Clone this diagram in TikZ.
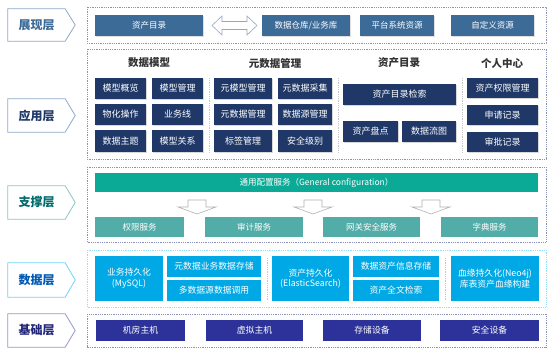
\documentclass[tikz,border=0pt]{standalone}
\usepackage{fontspec}
\newfontfamily\cjk{Noto Sans CJK SC}
\usetikzlibrary{shadows}
\definecolor{steel}{HTML}{3D6B98}
\definecolor{navy}{HTML}{1F3868}
\definecolor{tealbar}{HTML}{0BAA96}
\definecolor{tealbox}{HTML}{52ACA8}
\definecolor{skyb}{HTML}{00A9E6}
\definecolor{purp}{HTML}{2D329A}
\definecolor{frm}{HTML}{8A92B8}
\definecolor{lblb}{HTML}{8FA9C8}
\tikzset{
  base/.style={font=\cjk, inner sep=0pt, align=center},
  topbox/.style={base, fill=steel, text=white, font=\cjk\fontsize{8.5}{10}\selectfont, drop shadow={shadow xshift=0.8pt, shadow yshift=-0.8pt, opacity=0.25}},
  appbox/.style={base, fill=navy, text=white, font=\cjk\fontsize{9}{10.5}\selectfont, drop shadow={shadow xshift=1pt, shadow yshift=-1pt, opacity=0.3}},
  supbar/.style={base, fill=tealbar, text=white, font=\cjk\fontsize{8.5}{10}\selectfont},
  supbox/.style={base, fill=tealbox, text=white, font=\cjk\fontsize{8.5}{10}\selectfont},
  databox/.style={base, fill=skyb, text=white, font=\cjk\fontsize{8.8}{10.5}\selectfont},
  basebox/.style={base, fill=purp, text=white, font=\cjk\fontsize{8.8}{10.5}\selectfont},
  frame/.style={draw=frm, densely dotted, line width=0.8pt},
  sep/.style={draw=gray!45, densely dotted, line width=0.8pt},
  heading/.style={base, font=\cjk\bfseries\fontsize{10.5}{12}\selectfont, text=black!80},
  lbl/.style={base, font=\cjk\bfseries\fontsize{12}{14}\selectfont},
  hollow/.style={fill=white, draw=gray!60, line width=0.6pt},
}
\newcommand\bx[7]{\node[#6, minimum width={(#4-#2)*1pt}, minimum height={(#5-#3)*1pt}] (#1) at ({(#2+#4)/2},{(#3+#5)/2}) {#7};}
\begin{document}
\begin{tikzpicture}[x=1pt,y=-1pt]
\useasboundingbox[fill=white] (0,0) rectangle (554,353);
% left labels
\node[lbl, text=steel, minimum width=57pt, minimum height=32pt] (L1) at (36.5,25) {展现层};
\node[lbl, text=navy, minimum width=57pt, minimum height=33pt] (L2) at (36.5,115.5) {应用层};
\node[lbl, text=teal!85!black, minimum width=57pt, minimum height=33pt] (L3) at (36.5,202.5) {支撑层};
\node[lbl, text=blue!50!cyan!70!black, minimum width=57pt, minimum height=34pt] (L4) at (36.5,280) {数据层};
\node[lbl, text=purp!80!black, minimum width=57pt, minimum height=33pt] (L5) at (36.5,330.5) {基础层};
\foreach \n/\c in {L1/lblb, L2/lblb, L3/teal!45, L4/cyan!55, L5/purp!50}{
  \draw[draw=\c, line width=0.8pt] (\n.north west) -- (\n.north east) -- ([xshift=10pt]\n.east) -- (\n.south east) -- (\n.south west) -- cycle;
}
% frames
\draw[frame] (87,7) rectangle (546,43);
\draw[frame] (87,49) rectangle (546,159);
\draw[frame] (87,167) rectangle (546,242);
\draw[frame, draw=cyan!40] (87,250) rectangle (546,307);
\draw[frame] (87,314) rectangle (546,347);
% top row
\bx{t1}{95}{15}{203}{36}{topbox}{资产目录}
\bx{t2}{262}{15}{350}{36}{topbox}{数据仓库/业务库}
\bx{t3}{360}{15}{434}{36}{topbox}{平台系统资源}
\bx{t4}{451}{15}{534}{36}{topbox}{自定义资源}
\draw[hollow, draw=lblb] (212,25.5) -- (222,16) -- (222,21.5) -- (247,21.5) -- (247,16) -- (257,25.5) -- (247,35) -- (247,29.5) -- (222,29.5) -- (222,35) -- cycle;
% application layer
\node[heading] (h1) at (149,63) {数据模型};
\node[heading] (h2) at (275,63) {元数据管理};
\node[heading] (h3) at (399,63) {资产目录};
\node[heading] (h4) at (502,63) {个人中心};
\bx{a11}{95}{78}{146}{99}{appbox}{模型概览}
\bx{a12}{152}{78}{203}{99}{appbox}{模型管理}
\bx{a21}{95}{104}{146}{125}{appbox}{物化操作}
\bx{a22}{152}{104}{203}{125}{appbox}{业务线}
\bx{a31}{95}{130}{146}{152}{appbox}{数据主题}
\bx{a32}{152}{130}{203}{152}{appbox}{模型关系}
\bx{m11}{214}{78}{272}{99}{appbox}{元模型管理}
\bx{m12}{278}{78}{332}{99}{appbox}{元数据采集}
\bx{m21}{214}{104}{272}{125}{appbox}{元数据管理}
\bx{m22}{278}{104}{332}{125}{appbox}{数据源管理}
\bx{m31}{214}{130}{272}{152}{appbox}{标签管理}
\bx{m32}{278}{130}{332}{152}{appbox}{安全级别}
\bx{c1}{343}{84}{456}{105}{appbox}{资产目录检索}
\bx{c21}{343}{121}{398}{142}{appbox}{资产盘点}
\bx{c22}{402}{121}{456}{142}{appbox}{数据流图}
\bx{p1}{467}{78}{538}{98}{appbox}{资产权限管理}
\bx{p2}{467}{105}{538}{125}{appbox}{申请记录}
\bx{p3}{467}{132}{538}{152}{appbox}{审批记录}
\draw[sep] (209,78) -- (209,152);
\draw[sep] (338,78) -- (338,152);
\draw[sep] (462,78) -- (462,152);
% support layer
\bx{s0}{95}{173}{538}{192}{supbar}{通用配置服务（General configuration）}
\bx{s1}{95}{217}{184}{237}{supbox}{权限服务}
\bx{s2}{205}{217}{303}{237}{supbox}{审计服务}
\bx{s3}{323}{217}{420}{237}{supbox}{网关安全服务}
\bx{s4}{441}{217}{538}{237}{supbox}{字典服务}
\foreach \cx in {197,313,431}{
  \draw[hollow] (\cx-9,200) -- (\cx+9,200) -- (\cx+9,207) -- (\cx+19,207) -- (\cx,214) -- (\cx-19,207) -- (\cx-9,207) -- cycle;
}
% data layer
\bx{d1}{95}{256}{163}{301}{databox}{业务持久化\\(MySQL)}
\bx{d2}{167}{256}{261}{277}{databox}{元数据业务数据存储}
\bx{d3}{167}{280}{261}{301}{databox}{多数据源数据调用}
\bx{d4}{272}{256}{349}{301}{databox}{资产持久化\\(ElasticSearch)}
\bx{d5}{353}{256}{439}{277}{databox}{数据资产信息存储}
\bx{d6}{353}{280}{439}{301}{databox}{资产全文检索}
\bx{d7}{451}{256}{539}{301}{databox}{血缘持久化(Neo4j)\\库表资产血缘构建}
\draw[sep] (267,258) -- (267,300);
\draw[sep] (445,258) -- (445,300);
% base layer
\bx{b1}{96}{320}{185}{341}{basebox}{机房主机}
\bx{b2}{206}{320}{303}{341}{basebox}{虚拟主机}
\bx{b3}{323}{320}{421}{341}{basebox}{存储设备}
\bx{b4}{440}{320}{539}{341}{basebox}{安全设备}
\end{tikzpicture}
\end{document}
